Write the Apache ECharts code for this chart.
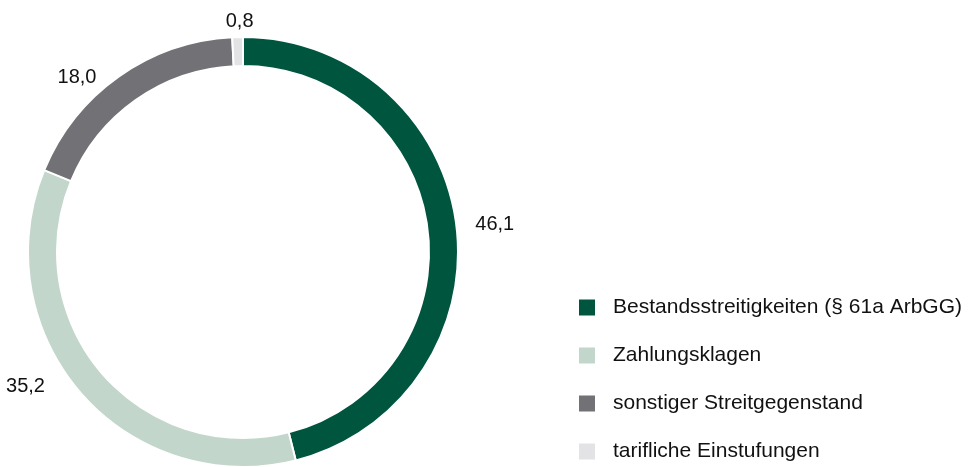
<!DOCTYPE html>
<html>
<head>
<meta charset="utf-8">
<script src="https://cdn.jsdelivr.net/npm/echarts@6/dist/echarts.min.js"></script>
<style>
  html, body { margin: 0; padding: 0; background: #fff; }
  #chart { width: 971px; height: 467px; }
</style>
</head>
<body>
<div id="chart"></div>
<script>
const categories = [
  "Bestandsstreitigkeiten (§ 61a ArbGG)",
  "Zahlungsklagen",
  "sonstiger Streitgegenstand",
  "tarifliche Einstufungen"
];
const values = [46.1, 35.2, 18.0, 0.8];
const colors = ["#00553f", "#c2d6cb", "#717176", "#e3e3e5"];

const font = "'Liberation Sans', Arial, sans-serif";

const chart = echarts.init(document.getElementById("chart"));
chart.setOption({
  animation: false,
  color: colors,
  legend: {
    orient: "vertical",
    left: 577,
    top: 297,
    height: 400,
    padding: 0,
    itemWidth: 18,
    itemHeight: 18,
    itemGap: 27,
    icon: "rect",
    textStyle: { fontFamily: font, fontSize: 21, color: "#111", padding: [14, 0, 0, 12] },
    data: categories
  },
  series: [
    {
      type: "pie",
      center: [243, 252],
      radius: [186, 215],
      startAngle: 90,
      clockwise: true,
      itemStyle: { borderColor: "#fff", borderWidth: 2 },
      label: {
        show: true,
        position: "outside",
        fontFamily: font,
        fontSize: 20,
        color: "#111",
        formatter: (p) => p.value.toFixed(1).replace(".", ",")
      },
      labelLine: { show: false, length: 6, length2: 8 },
      labelLayout: (p) => {
        if (p.dataIndex === 3) {
          return {
            x: p.rect.x + p.rect.width / 2 + 2,
            y: p.rect.y - 15,
            align: "center",
            verticalAlign: "middle"
          };
        }
        if (p.dataIndex === 1) return { dx: -18, dy: -10 };
        if (p.dataIndex === 2) return { dx: -6, dy: 6 };
        return {};
      },
      emphasis: { disabled: true },
      data: categories.map((name, i) => ({ name, value: values[i] }))
    }
  ]
});
</script>
</body>
</html>
